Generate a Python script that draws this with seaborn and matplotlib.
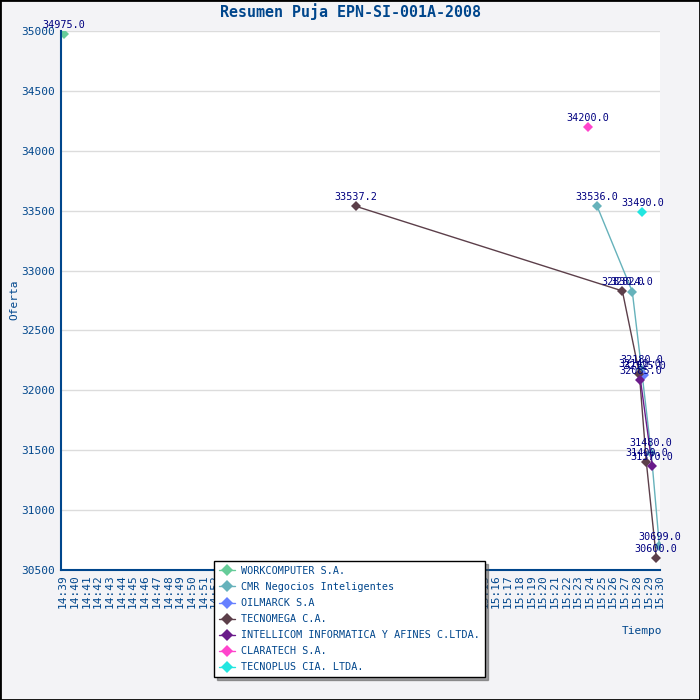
import pandas as pd
import numpy as np
import seaborn as sns
import matplotlib
matplotlib.use('Agg')
import matplotlib.pyplot as plt
import matplotlib.dates as mdates
from matplotlib.patches import Rectangle

# bids per company: time of bid and offered amount
day = '2008-01-01 '
workcomputer_t = ['14:39:05']
workcomputer_v = [34975.0]
cmr_t = ['15:24:38', '15:27:38', '15:28:25', '15:29:15', '15:29:57']
cmr_v = [33536.0, 32824.0, 32180.0, 31480.0, 30699.0]
oilmarck_t = ['15:28:40']
oilmarck_v = [32125.0]
tecnomega_t = ['15:04:00', '15:26:47', '15:28:14', '15:28:50', '15:29:41']
tecnomega_v = [33537.2, 32830.0, 32140.0, 31400.0, 30600.0]
intellicom_t = ['15:28:20', '15:29:20']
intellicom_v = [32085.0, 31370.0]
claratech_t = ['15:23:50']
claratech_v = [34200.0]
tecnoplus_t = ['15:28:30']
tecnoplus_v = [33490.0]

series = [
    ('WORKCOMPUTER S.A.', workcomputer_t, workcomputer_v, '#66cc99'),
    ('CMR Negocios Inteligentes', cmr_t, cmr_v, '#66b2bb'),
    ('OILMARCK S.A', oilmarck_t, oilmarck_v, '#6680ff'),
    ('TECNOMEGA C.A.', tecnomega_t, tecnomega_v, '#5c3f4a'),
    ('INTELLICOM INFORMATICA Y AFINES C.LTDA.', intellicom_t, intellicom_v, '#6a1b8a'),
    ('CLARATECH S.A.', claratech_t, claratech_v, '#ff44cc'),
    ('TECNOPLUS CIA. LTDA.', tecnoplus_t, tecnoplus_v, '#22e6e0'),
]

blue = '#00468c'
navy = '#000080'
mono = 'DejaVu Sans Mono'

sns.set_style('white')
plt.rcParams['font.family'] = [mono, 'DejaVu Sans']

fig = plt.figure(figsize=(7, 7), dpi=100, facecolor='#f3f3f6')
ax = fig.add_axes([61 / 700, 130 / 700, 599 / 700, 539 / 700])
ax.set_facecolor('white')

for name, t, v, col in series:
    x = pd.to_datetime([day + s for s in t])
    sns.lineplot(x=x, y=v, ax=ax, color=col, marker='D', markersize=5,
                 markeredgewidth=0, linewidth=1, label=name, sort=False)
    for xi, vi in zip(x, v):
        ax.annotate('%.1f' % vi, (xi, vi), xytext=(0, 3), textcoords='offset points',
                    ha='center', va='bottom', fontsize=7.3, color=navy)

ax.set_xlim(pd.Timestamp(day + '14:38:50'), pd.Timestamp(day + '15:30:00'))
ax.set_ylim(30500, 35000)
ax.xaxis.set_major_locator(mdates.MinuteLocator())
ax.xaxis.set_minor_locator(mdates.SecondLocator(bysecond=[12, 24, 36, 48]))
ax.xaxis.set_major_formatter(mdates.DateFormatter('%H:%M'))
ax.yaxis.set_major_locator(plt.MultipleLocator(500))
ax.yaxis.set_minor_locator(plt.MultipleLocator(100))

ax.grid(axis='y', which='major', color='#dcdcdc', linewidth=1)
ax.set_axisbelow(True)
for s in ['top', 'right']:
    ax.spines[s].set_visible(False)
for s in ['left', 'bottom']:
    ax.spines[s].set_color(blue)
    ax.spines[s].set_linewidth(1.5)

ax.tick_params(axis='both', which='both', direction='in', colors=blue, labelsize=8)
ax.tick_params(axis='y', which='major', length=5, pad=4)
ax.tick_params(axis='y', which='minor', length=4)
ax.tick_params(axis='x', which='major', length=6, pad=3)
ax.tick_params(axis='x', which='minor', length=3)
plt.setp(ax.get_xticklabels(), rotation=90)

ax.set_xlabel('')
ax.set_ylabel('')
fig.text(14 / 700, 1 - 300 / 700, 'Oferta', rotation=90, ha='center', va='center',
         color=blue, fontsize=8)
fig.text(642 / 700, 1 - 631 / 700, 'Tiempo', ha='center', va='center',
         color=blue, fontsize=8)
fig.text(0.5, 1 - 12 / 700, 'Resumen Puja EPN-SI-001A-2008', ha='center', va='center',
         color=blue, fontsize=10.8, fontweight='bold')

leg = ax.legend(loc='lower left', bbox_to_anchor=(214 / 700, 23 / 700, 271 / 700, 117 / 700),
                bbox_transform=fig.transFigure, mode='expand', frameon=True,
                fancybox=False, shadow=True, fontsize=7.3, borderaxespad=0,
                labelspacing=0.6, handlelength=1.6, handletextpad=0.6,
                borderpad=0.45, markerscale=1.3)
leg.get_frame().set_edgecolor('black')
leg.get_frame().set_linewidth(1)
leg.get_frame().set_facecolor('white')
leg.get_frame().set_alpha(1)
for txt in leg.get_texts():
    txt.set_color(blue)

fig.patches.append(Rectangle((0, 0), 1, 1, transform=fig.transFigure, fill=False,
                             edgecolor='black', linewidth=2))

fig.savefig('out.png', dpi=100, facecolor=fig.get_facecolor())
